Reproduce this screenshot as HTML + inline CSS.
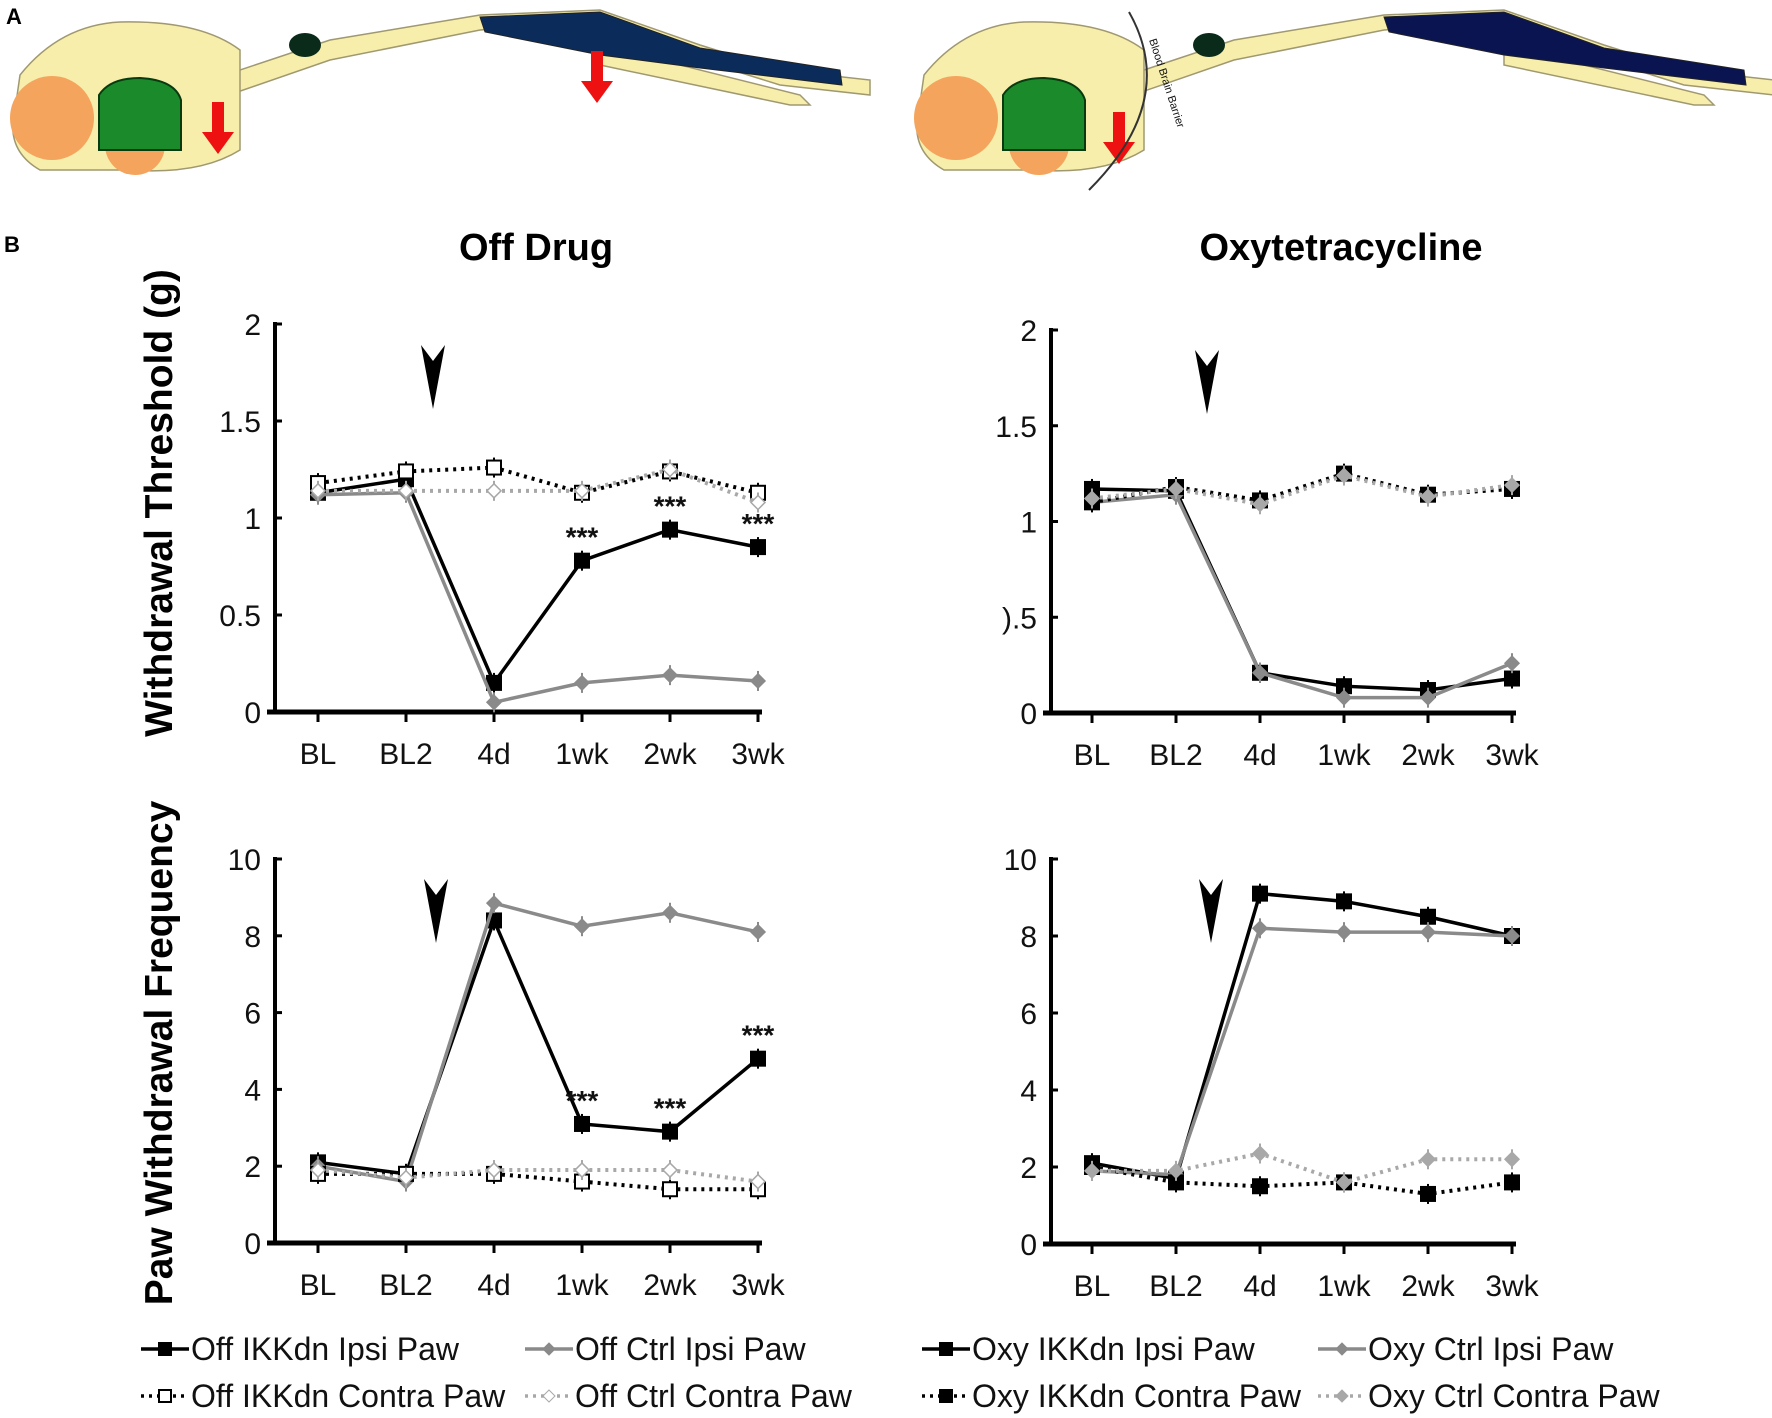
<!DOCTYPE html>
<html><head><meta charset="utf-8">
<style>
html,body{margin:0;padding:0;background:#fff;}
svg{display:block;font-family:"Liberation Sans",Arial,sans-serif;}
</style></head>
<body>
<svg id="fig" width="1772" height="1418" viewBox="0 0 1772 1418">
  <text x="6" y="24" font-size="22" font-weight="bold">A</text>
  <g id="drawings"></g>
  <text x="4" y="252" font-size="22" font-weight="bold">B</text>
  <text x="536" y="260" font-size="38" font-weight="bold" text-anchor="middle">Off Drug</text>
  <text x="1341" y="260" font-size="38" font-weight="bold" text-anchor="middle">Oxytetracycline</text>
  <text transform="translate(172,503) rotate(-90)" font-size="39" font-weight="bold" text-anchor="middle">Withdrawal Threshold (g)</text>
  <text transform="translate(172,1053) rotate(-90)" font-size="39" font-weight="bold" text-anchor="middle">Paw Withdrawal Frequency</text>
  <g id="charts"></g>
  <g id="legends"></g>
</svg>
<script>
const NS="http://www.w3.org/2000/svg";
const categories=["BL","BL2","4d","1wk","2wk","3wk"];
// Off drug threshold
const offThrIpsi=[1.13,1.20,0.15,0.78,0.94,0.85];
const offThrCtrlIpsi=[1.12,1.13,0.05,0.15,0.19,0.16];
const offThrContra=[1.18,1.24,1.26,1.13,1.24,1.13];
const offThrCtrlContra=[1.14,1.14,1.14,1.14,1.25,1.08];
// Oxy threshold
const oxyThrIpsi=[1.17,1.16,0.21,0.14,0.12,0.18];
const oxyThrCtrlIpsi=[1.10,1.14,0.21,0.08,0.08,0.26];
const oxyThrContra=[1.10,1.18,1.11,1.25,1.14,1.17];
const oxyThrCtrlContra=[1.12,1.17,1.09,1.24,1.13,1.19];
// Off drug frequency
const offFrqIpsi=[2.1,1.8,8.4,3.1,2.9,4.8];
const offFrqCtrlIpsi=[2.0,1.6,8.85,8.25,8.6,8.1];
const offFrqContra=[1.8,1.8,1.8,1.6,1.4,1.4];
const offFrqCtrlContra=[1.9,1.7,1.9,1.9,1.9,1.6];
// Oxy frequency
const oxyFrqIpsi=[2.1,1.7,9.1,8.9,8.5,8.0];
const oxyFrqCtrlIpsi=[1.9,1.8,8.2,8.1,8.1,8.0];
const oxyFrqContra=[2.0,1.6,1.5,1.6,1.3,1.6];
const oxyFrqCtrlContra=[1.9,1.9,2.35,1.6,2.2,2.2];
const thrTicks=["0","0.5","1","1.5","2"];
const thrTickVals=[0,0.5,1,1.5,2];
const thrTicksOxy=["0",").5","1","1.5","2"];
const frqTicks=["0","2","4","6","8","10"];
const frqTickVals=[0,2,4,6,8,10];
const offStars=[3,4,5];

function el(tag,attrs,parent){const e=document.createElementNS(NS,tag);for(const k in attrs)e.setAttribute(k,attrs[k]);(parent||document.getElementById('charts')).appendChild(e);return e;}

function chart(cfg){
  const g=el('g',{});
  
  
  const x0=cfg.x0,xs=cfg.xs,y0=cfg.y0,yTop=cfg.yTop,max=cfg.max;
  const X=i=>xs[0]+i*(xs[1]-xs[0]);
  const Y=v=>y0-(v/max)*(y0-yTop);
  const yax=el('line',{x1:x0,y1:yTop-2,x2:x0,y2:y0+2,stroke:'#000','stroke-width':4},g);
  
  const xEnd=X(5)+4;
  const xax=el('line',{x1:x0-8,y1:y0,x2:xEnd,y2:y0,stroke:'#000','stroke-width':5},g);
  
  cfg.tickVals.forEach((v,i)=>{
    el('line',{x1:x0,y1:Y(v),x2:x0+7,y2:Y(v),stroke:'#000','stroke-width':3},g);
    const t=el('text',{x:x0-14,y:Y(v)+11,'font-size':30,'text-anchor':'end',fill:'#111'},g);
    t.textContent=cfg.ticks[i];
    
    
  });
  categories.forEach((c,i)=>{
    el('line',{x1:X(i),y1:y0,x2:X(i),y2:y0+10,stroke:'#000','stroke-width':3},g);
    const t=el('text',{x:X(i),y:y0+52,'font-size':30,'text-anchor':'middle',fill:'#111'},g);
    t.textContent=c;
    
    
  });
  const ax=cfg.arrowX,ay=cfg.arrowY;
  const ah=el('path',{d:`M${ax-12},${ay} L${ax},${ay+16} L${ax+12},${ay} L${ax},${ay+64} Z`,fill:'#000'},g);
  
  cfg.series.forEach(s=>{
    const sg=el('g',{},g);
    
    
    const pts=s.data.map((v,i)=>X(i)+','+Y(v)).join(' ');
    const pl=el('polyline',{points:pts,fill:'none',stroke:s.color,'stroke-width':s.dash?4:3.5,'stroke-dasharray':s.dash?'3,5':'none'},sg);
    
    s.data.forEach((v,i)=>{
      const x=X(i),y=Y(v);
      el('line',{x1:x,y1:y-10,x2:x,y2:y+10,stroke:s.color,'stroke-width':2},sg);
      let m;
      if(s.marker==='square'){
        m=el('rect',{x:x-7,y:y-7,width:14,height:14,fill:s.open?'#fff':s.color,stroke:s.color,'stroke-width':2},sg);
      } else {
        m=el('path',{d:`M${x},${y-7} L${x+7},${y} L${x},${y+7} L${x-7},${y} Z`,fill:s.open?'#fff':s.color,stroke:s.color,'stroke-width':1.5},sg);
      }
      
      
    });
  });
  (cfg.stars||[]).forEach(i=>{
    const t=el('text',{x:X(i),y:Y(cfg.series[0].data[i])-14,'font-size':28,'font-weight':'bold','text-anchor':'middle',fill:'#111'},g);
    t.textContent='***';
    
    
  });
}
const BLK='#000',GRY='#8a8a8a',LGR='#a8a8a8';
function mkSeries(a,b,c,d,pre,openContra){return[
  {name:pre+'-ikkdn-ipsi',data:a,color:BLK,marker:'square'},
  {name:pre+'-ctrl-ipsi',data:b,color:GRY,marker:'diamond'},
  {name:pre+'-ikkdn-contra',data:c,color:BLK,marker:'square',dash:true,open:openContra},
  {name:pre+'-ctrl-contra',data:d,color:LGR,marker:'diamond',dash:true,open:openContra}];}
chart({name:'off-drug-threshold-chart',x0:275,xs:[318,406],y0:712,yTop:324,max:2,ticks:thrTicks,tickVals:thrTickVals,arrowX:433,arrowY:345,series:mkSeries(offThrIpsi,offThrCtrlIpsi,offThrContra,offThrCtrlContra,'off-thr',true),stars:offStars});
chart({name:'oxy-threshold-chart',x0:1051,xs:[1092,1176],y0:713,yTop:330,max:2,ticks:thrTicksOxy,tickVals:thrTickVals,arrowX:1207,arrowY:350,series:mkSeries(oxyThrIpsi,oxyThrCtrlIpsi,oxyThrContra,oxyThrCtrlContra,'oxy-thr',false)});
chart({name:'off-drug-frequency-chart',x0:275,xs:[318,406],y0:1243,yTop:859,max:10,ticks:frqTicks,tickVals:frqTickVals,arrowX:436,arrowY:879,series:mkSeries(offFrqIpsi,offFrqCtrlIpsi,offFrqContra,offFrqCtrlContra,'off-frq',true),stars:offStars});
chart({name:'oxy-frequency-chart',x0:1051,xs:[1092,1176],y0:1244,yTop:859,max:10,ticks:frqTicks,tickVals:frqTickVals,arrowX:1211,arrowY:879,series:mkSeries(oxyFrqIpsi,oxyFrqCtrlIpsi,oxyFrqContra,oxyFrqCtrlContra,'oxy-frq',false)});

const L=document.getElementById('legends');
function legend(x,y,label,color,marker,dash,open){
  const g=el('g',{},L);
  
  
  el('line',{x1:x,y1:y,x2:x+48,y2:y,stroke:color,'stroke-width':3.5,'stroke-dasharray':dash?'3,5':'none'},g);
  const cx=x+24;
  if(marker==='square')el('rect',{x:cx-6,y:y-6,width:12,height:12,fill:open?'#fff':color,stroke:color,'stroke-width':2},g);
  else el('path',{d:`M${cx},${y-6} L${cx+6},${y} L${cx},${y+6} L${cx-6},${y} Z`,fill:open?'#fff':color,stroke:color},g);
  const t=el('text',{x:x+50,y:y+11,'font-size':32,fill:'#111'},g);
  t.textContent=label;
}
legend(141,1349,'Off IKKdn Ipsi Paw',BLK,'square',false,false);
legend(525,1349,'Off Ctrl Ipsi Paw',GRY,'diamond',false,false);
legend(141,1396,'Off IKKdn Contra Paw',BLK,'square',true,true);
legend(525,1396,'Off Ctrl Contra Paw',LGR,'diamond',true,true);
legend(922,1349,'Oxy IKKdn Ipsi Paw',BLK,'square',false,false);
legend(1318,1349,'Oxy Ctrl Ipsi Paw',GRY,'diamond',false,false);
legend(922,1396,'Oxy IKKdn Contra Paw',BLK,'square',true,false);
legend(1318,1396,'Oxy Ctrl Contra Paw',LGR,'diamond',true,false);

const D=document.getElementById('drawings');
function drawing(dx,blue,bbb){
  const g=el('g',{transform:`translate(${dx},0)`},D);
  
  
  el('path',{d:'M200,105 L330,60 L480,30 L560,25 L700,60 L780,85 L870,95 L870,80 L780,70 L700,45 L600,10 L480,15 L330,40 L210,80 Z',fill:'#f6eeaa',stroke:'#a09870','stroke-width':1.5},g);
  el('path',{d:'M600,45 L800,95 L810,105 L790,105 L600,65 Z',fill:'#f6eeaa',stroke:'#a09870','stroke-width':1.5},g);
  el('path',{d:'M480,17 L600,12 L700,48 L840,70 L842,85 L700,68 L600,55 L485,32 Z',fill:blue,stroke:'#222','stroke-width':1},g);
  el('path',{d:'M20,75 Q60,25 120,22 Q200,20 240,50 L240,150 Q200,175 130,170 L40,170 Q5,150 15,110 Z',fill:'#f6eeaa',stroke:'#a09870','stroke-width':1.5},g);
  el('ellipse',{cx:305,cy:45,rx:16,ry:12,fill:'#0a2a1a'},g);
  el('circle',{cx:52,cy:118,r:42,fill:'#f4a45c'},g);
  el('circle',{cx:135,cy:145,r:30,fill:'#f4a45c'},g);
  el('path',{d:'M99,150 L99,95 Q110,78 140,78 Q175,80 181,100 L181,150 Z',fill:'#1a8a2a',stroke:'#0a3a10','stroke-width':2},g);
  const ar=(x,y)=>{const a=el('path',{d:`M${x-6},${y} L${x+6},${y} L${x+6},${y+30} L${x+16},${y+30} L${x},${y+52} L${x-16},${y+30} L${x-6},${y+30} Z`,fill:'#ee1111'},g);};
  ar(bbb?215:218,bbb?112:102);
  if(!bbb)ar(597,51);
  if(bbb){
    el('path',{d:'M225,12 Q275,100 185,190',fill:'none',stroke:'#333','stroke-width':2},g);
    const t=el('text',{x:0,y:0,'font-size':11,fill:'#111',transform:'translate(245,40) rotate(72)'},g);t.textContent='Blood Brain Barrier';
  }
}
drawing(0,'#0b2c5a',false);
drawing(904,'#0a1450',true);
</script>
</body></html>
